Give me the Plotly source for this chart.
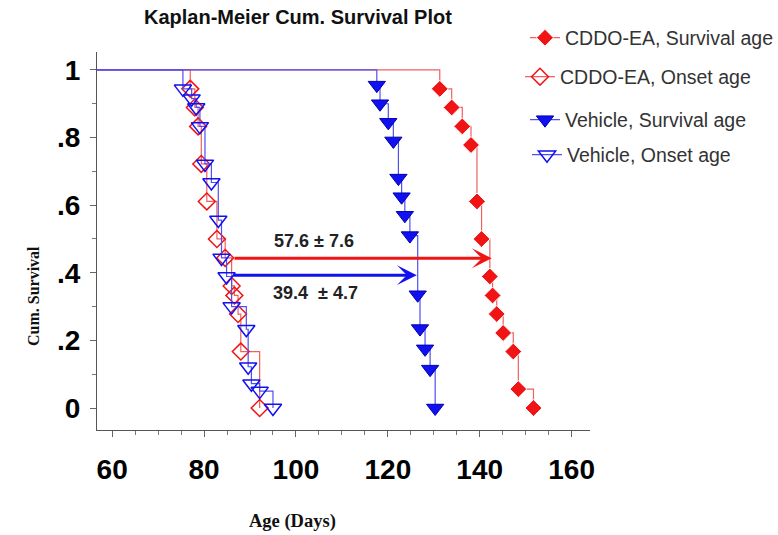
import plotly.graph_objects as go

# ---- data (age in days, cumulative survival) ----
START_DAY = 0
START_CUM = 1.0

cddo_surv_days = [131.3, 133.9, 136.2, 138.1, 139.4, 140.4, 142.2, 142.8, 143.7, 145.1, 147.3, 148.4, 151.7]
cddo_surv_cum = [0.944, 0.889, 0.833, 0.778, 0.611, 0.500, 0.389, 0.333, 0.278, 0.222, 0.167, 0.056, 0.0]

cddo_onset_days = [77.0, 78.0, 78.7, 79.4, 80.6, 82.8, 84.6, 86.0, 86.6, 87.4, 88.0, 92.1]
cddo_onset_cum = [0.944, 0.889, 0.833, 0.722, 0.611, 0.500, 0.444, 0.361, 0.333, 0.278, 0.167, 0.0]

veh_surv_days = [117.6, 118.3, 120.1, 121.2, 122.3, 123.0, 123.7, 124.8, 126.5, 127.0, 128.1, 129.2, 130.3]
veh_surv_cum = [0.955, 0.900, 0.845, 0.790, 0.680, 0.625, 0.570, 0.510, 0.335, 0.235, 0.175, 0.115, 0.0]

veh_onset_days = [75.4, 77.3, 78.3, 79.1, 80.2, 81.6, 83.1, 83.8, 84.9, 86.0, 89.2, 89.6, 90.3, 92.1, 95.0]
veh_onset_cum = [0.944, 0.915, 0.889, 0.833, 0.722, 0.667, 0.556, 0.444, 0.389, 0.300, 0.233, 0.122, 0.072, 0.050, 0.0]

# onset-to-death interval arrows: (start day, end day, level, label, label day)
cddo_arrow = (86.3, 142.6, 0.443, "57.6 ± 7.6", 104.0)
veh_arrow = (86.0, 126.3, 0.393, "39.4\u00a0 ± 4.7", 104.3)

x_ticks = [60, 80, 100, 120, 140, 160]
y_ticks = [0, 0.2, 0.4, 0.6, 0.8, 1.0]
y_tick_text = ["0", ".2", ".4", ".6", ".8", "1"]

RED = "#f01414"
RED_LINE = "#f06060"
BLUE = "#1010f0"
BLUE_LINE = "#5050f0"

SANS = "Liberation Sans, Arial, sans-serif"
SERIF = "Liberation Serif, Times New Roman, serif"

fig = go.Figure()


def km(days, cum):
    return [START_DAY] + list(days), [START_CUM] + list(cum)


x, y = km(cddo_surv_days, cddo_surv_cum)
fig.add_trace(go.Scatter(
    x=x, y=y, mode="lines+markers", name="CDDO-EA, Survival age",
    line=dict(shape="hv", color=RED_LINE, width=1.2),
    marker=dict(symbol="diamond", size=13, color=RED, line=dict(color="white", width=1)),
    legend="legend"))

x, y = km(cddo_onset_days, cddo_onset_cum)
fig.add_trace(go.Scatter(
    x=x, y=y, mode="lines+markers", name="CDDO-EA, Onset age",
    line=dict(shape="hv", color=RED_LINE, width=1.2),
    marker=dict(symbol="diamond-open", size=13, color=RED, line=dict(width=1.5)),
    legend="legend2"))

x, y = km(veh_surv_days, veh_surv_cum)
fig.add_trace(go.Scatter(
    x=x, y=y, mode="lines+markers", name="Vehicle, Survival age",
    line=dict(shape="hv", color=BLUE_LINE, width=1.2),
    marker=dict(symbol="triangle-down", size=15, color=BLUE, line=dict(color="#0000b0", width=1)),
    legend="legend3"))

x, y = km(veh_onset_days, veh_onset_cum)
fig.add_trace(go.Scatter(
    x=x, y=y, mode="lines+markers", name="Vehicle, Onset age",
    line=dict(shape="hv", color=BLUE_LINE, width=1.2),
    marker=dict(symbol="triangle-down-open", size=15, color=BLUE, line=dict(width=1.5)),
    legend="legend4"))

# arrows marking the onset-to-death interval, labelled above / below
for (x0, x1, lvl, txt, tx), col, dy in [(cddo_arrow, RED, 17), (veh_arrow, BLUE, -18)]:
    fig.add_annotation(x=x1, y=lvl, ax=x0, ay=lvl, xref="x", yref="y", axref="x", ayref="y",
                       showarrow=True, arrowhead=3, arrowsize=1.1, arrowwidth=3,
                       arrowcolor=col, text="")
    fig.add_annotation(x=tx, y=lvl, xref="x", yref="y", yshift=dy,
                       showarrow=False, text=txt, xanchor="center", yanchor="middle",
                       font=dict(family=SANS, size=18, color="#222222", weight="bold"))

# title and axis titles
W, H = 778, 535
L, R, T, B = 97, 188, 52, 105
pw, ph = W - L - R, H - T - B


def px(xp):
    return (xp - L) / pw


def py(yp):
    return (H - B - yp) / ph


fig.add_annotation(x=px(298), y=py(17), xref="paper", yref="paper", showarrow=False,
                   xanchor="center", yanchor="middle",
                   text="Kaplan-Meier Cum. Survival Plot",
                   font=dict(family=SANS, size=20, color="#111111", weight="bold"))
fig.add_annotation(x=px(33), y=py(296), xref="paper", yref="paper", showarrow=False,
                   xanchor="center", yanchor="middle",
                   text="Cum. Survival", textangle=-90,
                   font=dict(family=SERIF, size=16, color="#111111", weight="bold"))
fig.add_annotation(x=px(292), y=py(521), xref="paper", yref="paper", showarrow=False,
                   xanchor="center", yanchor="middle",
                   text="Age (Days)",
                   font=dict(family=SERIF, size=18.5, color="#111111", weight="bold"))

legend_font = dict(family=SANS, size=19.5, color="#333333")
legend_common = dict(font=legend_font, bgcolor="rgba(0,0,0,0)", xanchor="left",
                     yanchor="middle", itemsizing="trace", xref="container", yref="container")
fig.update_layout(
    showlegend=True,
    legend=dict(x=525 / W, y=1 - 38 / H, **legend_common),
    legend2=dict(x=520 / W, y=1 - 77 / H, **legend_common),
    legend3=dict(x=525 / W, y=1 - 120 / H, **legend_common),
    legend4=dict(x=527 / W, y=1 - 155 / H, **legend_common),
)

axis_common = dict(showline=True, linecolor="#555555", linewidth=1, ticks="outside",
                   tickcolor="#666666", ticklen=6, showgrid=False, zeroline=False,
                   tickfont=dict(family=SANS, size=28, color="#000000", weight="bold"))
fig.update_xaxes(range=[56.7, 164], tickvals=x_ticks, ticklabelstandoff=8,
                 minor=dict(dtick=5, ticks="outside", ticklen=4, tickcolor="#777777"),
                 **axis_common)
fig.update_yaxes(range=[-0.065, 1.053], tickvals=y_ticks, ticktext=y_tick_text,
                 ticklabelstandoff=4,
                 minor=dict(dtick=0.1, ticks="outside", ticklen=4, tickcolor="#777777"),
                 **axis_common)

fig.update_layout(width=W, height=H, margin=dict(l=L, r=R, t=T, b=B, autoexpand=False),
                  paper_bgcolor="white", plot_bgcolor="white")

fig.write_html("out.html")
